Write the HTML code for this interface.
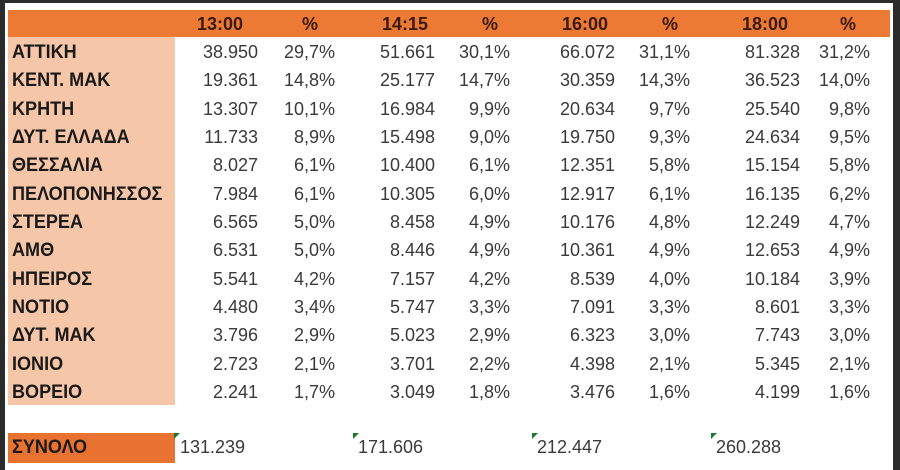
<!DOCTYPE html>
<html><head><meta charset="utf-8"><style>
body{margin:0;width:900px;height:470px;overflow:hidden;background:#2b2b2b;font-family:"Liberation Sans",sans-serif}
#f{position:absolute;left:5px;top:3px;width:888px;height:467px;background:#fff}
.hd{position:absolute;left:8px;top:10px;width:882px;height:27px;background:#ec7a35}
.pc{position:absolute;left:8px;top:37px;width:167px;height:368px;background:#f6c6a8}
.tot{position:absolute;left:8px;top:433px;width:167px;height:30px;background:#e8722f}
.t{position:absolute;height:28px;line-height:28px;font-size:18px;color:#3a3a3a;white-space:nowrap}
.l{font-weight:bold;color:#1a1a1a;left:12px;font-size:19px;line-height:30px;transform:scaleX(0.95);transform-origin:left}
.h{font-weight:bold;color:#3a1a0a;font-size:18px;top:10px;height:27px;line-height:28px;text-align:center;width:100px}
.r{text-align:right;width:100px}
.g{position:absolute;width:0;height:0;border-top:6px solid #1a7a2a;border-right:6px solid transparent}
</style></head><body>
<div id="f"></div>
<div class="hd"></div><div class="pc"></div><div class="tot"></div>
<div class="t h" style="left:170px">13:00</div>
<div class="t h" style="left:260px">%</div>
<div class="t h" style="left:355px">14:15</div>
<div class="t h" style="left:440px">%</div>
<div class="t h" style="left:535px">16:00</div>
<div class="t h" style="left:620px">%</div>
<div class="t h" style="left:715px">18:00</div>
<div class="t h" style="left:798px">%</div>

<div id="rows"></div>
<script>
var d=[
["ΑΤΤΙΚΗ","38.950","29,7%","51.661","30,1%","66.072","31,1%","81.328","31,2%"],
["ΚΕΝΤ. ΜΑΚ","19.361","14,8%","25.177","14,7%","30.359","14,3%","36.523","14,0%"],
["ΚΡΗΤΗ","13.307","10,1%","16.984","9,9%","20.634","9,7%","25.540","9,8%"],
["ΔΥΤ. ΕΛΛΑΔΑ","11.733","8,9%","15.498","9,0%","19.750","9,3%","24.634","9,5%"],
["ΘΕΣΣΑΛΙΑ","8.027","6,1%","10.400","6,1%","12.351","5,8%","15.154","5,8%"],
["ΠΕΛΟΠΟΝΗΣΣΟΣ","7.984","6,1%","10.305","6,0%","12.917","6,1%","16.135","6,2%"],
["ΣΤΕΡΕΑ","6.565","5,0%","8.458","4,9%","10.176","4,8%","12.249","4,7%"],
["ΑΜΘ","6.531","5,0%","8.446","4,9%","10.361","4,9%","12.653","4,9%"],
["ΗΠΕΙΡΟΣ","5.541","4,2%","7.157","4,2%","8.539","4,0%","10.184","3,9%"],
["ΝΟΤΙΟ","4.480","3,4%","5.747","3,3%","7.091","3,3%","8.601","3,3%"],
["ΔΥΤ. ΜΑΚ","3.796","2,9%","5.023","2,9%","6.323","3,0%","7.743","3,0%"],
["ΙΟΝΙΟ","2.723","2,1%","3.701","2,2%","4.398","2,1%","5.345","2,1%"],
["ΒΟΡΕΙΟ","2.241","1,7%","3.049","1,8%","3.476","1,6%","4.199","1,6%"]];
var ends=[258,335,435,510,615,690,800,870],h="";
d.forEach(function(r,i){var top=Math.round(52+28.33*i-14);
h+='<div class="t l" style="top:'+top+'px">'+r[0]+'</div>';
for(var j=1;j<9;j++)h+='<div class="t r" style="top:'+top+'px;left:'+(ends[j-1]-100)+'px">'+r[j]+'</div>';});
document.getElementById("rows").innerHTML=h;
</script>
<div class="t l" style="top:433px">ΣΥΝΟΛΟ</div>
<div class="t" style="top:433px;left:180px">131.239</div>
<div class="t" style="top:433px;left:358px">171.606</div>
<div class="t" style="top:433px;left:537px">212.447</div>
<div class="t" style="top:433px;left:716px">260.288</div>
<div class="g" style="left:174px;top:433px"></div>
<div class="g" style="left:353px;top:433px"></div>
<div class="g" style="left:532px;top:433px"></div>
<div class="g" style="left:711px;top:433px"></div>
</body></html>
